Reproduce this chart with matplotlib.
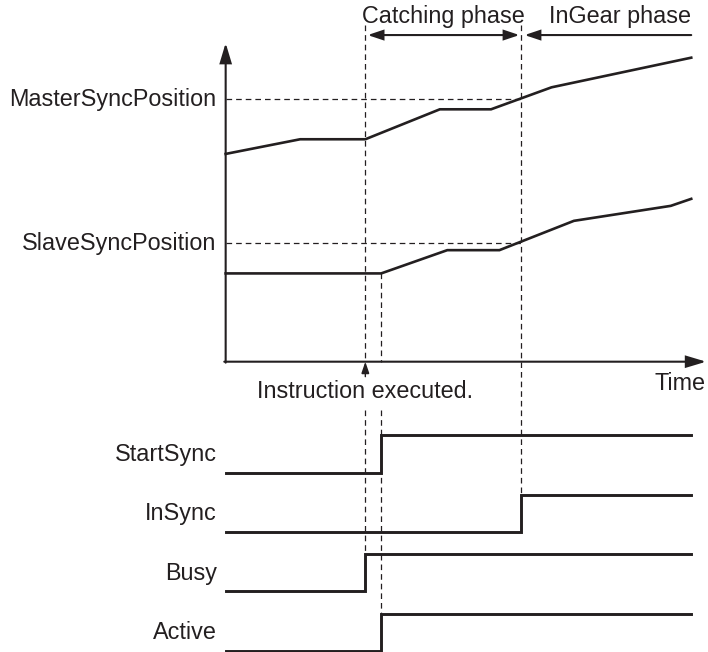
import matplotlib
matplotlib.use('Agg')
import matplotlib.pyplot as plt
from matplotlib.patches import FancyArrowPatch

plt.rcParams['font.family'] = ['Liberation Sans', 'DejaVu Sans']

INK = '#231f20'
FS = 16.8

# axis positions over time (arbitrary units, time axis 0..100)
master_t   = [0, 16, 30, 46, 57, 70, 100]
master_pos = [65.2, 69.8, 69.8, 79.2, 79.2, 86.1, 95.4]
slave_t    = [0, 33.4, 47.6, 58.8, 74.8, 95.6, 100]
slave_pos  = [27.7, 27.7, 35.0, 35.0, 44.2, 48.9, 51.1]

master_sync = 82.4
slave_sync  = 37.2

# event times
t_exec   = 30.0   # instruction executed
t_start  = 33.4   # sync starts
t_insync = 63.5   # slave in sync
t_end    = 100

signal_names = ['StartSync', 'InSync', 'Busy', 'Active']
signal_on    = [t_start, t_insync, t_exec, t_start]

# timing rows below the position chart
row0, row_step, row_h = -34.8, 18.63, 11.65
label_gap = -15.2   # guides stop around the "Instruction executed." text


def arrow(ax, p0, p1, style, hl, hw, lw=1.5, ms=20):
    a = FancyArrowPatch(p0, p1, arrowstyle=f'{style},head_length={hl},head_width={hw}',
                        mutation_scale=ms, lw=lw, color=INK,
                        shrinkA=0, shrinkB=0, joinstyle='miter')
    ax.add_patch(a)


fig = plt.figure(figsize=(7.08, 6.52), dpi=100)
ax = fig.add_axes([0, 0, 1, 1])
ax.set_xlim(-48.47, 103.6)
ax.set_ylim(-91.1, 113.5)
ax.axis('off')

dash = dict(color=INK, lw=0.9, ls=(0, (4.5, 3.2)))

# sync position guides
ax.plot([0, t_insync], [master_sync, master_sync], **dash)
ax.plot([0, t_insync], [slave_sync, slave_sync], **dash)

# event guides (broken at the time axis label line)
top = 105.8
busy_hi = row0 - 2 * row_step + row_h
act_hi = row0 - 3 * row_step + row_h
ins_hi = row0 - 1 * row_step + row_h
ax.plot([t_exec, t_exec], [top, 0], **dash)
ax.plot([t_exec, t_exec], [label_gap, busy_hi], **dash)
ax.plot([t_start, t_start], [slave_pos[1], 0], **dash)
ax.plot([t_start, t_start], [label_gap, act_hi], **dash)
ax.plot([t_insync, t_insync], [top, ins_hi], **dash)

# position curves
ax.plot(master_t, master_pos, color=INK, lw=1.9, solid_joinstyle='miter')
ax.plot(slave_t, slave_pos, color=INK, lw=1.9, solid_joinstyle='miter')

# axes with arrowheads
arrow(ax, (0, -0.3), (0, 100), '-|>', 0.6, 0.18)
arrow(ax, (-0.3, 0), (103.2, 0), '-|>', 0.6, 0.18)
ax.text(92.1, -8.9, 'Time', fontsize=FS, color=INK, ha='left', va='baseline')

ax.text(-1.93, 80.2, 'MasterSyncPosition', fontsize=FS, color=INK, ha='right', va='baseline')
ax.text(-1.93, 35.05, 'SlaveSyncPosition', fontsize=FS, color=INK, ha='right', va='baseline')

# instruction executed marker
arrow(ax, (t_exec, -4.7), (t_exec, 0), '-|>', 0.35, 0.12, lw=1.0)
ax.text(t_exec, -11.5, 'Instruction executed.', fontsize=FS, color=INK,
        ha='center', va='baseline')

# phase arrows
ph_y = 102.5
arrow(ax, (t_exec + 0.5, ph_y), (t_insync - 0.4, ph_y), '<|-|>', 0.45, 0.15)
arrow(ax, (t_end, ph_y), (t_insync + 0.7, ph_y), '-|>', 0.45, 0.15)
ax.text((t_exec + t_insync) / 2, 106.2, 'Catching phase', fontsize=FS, color=INK,
        ha='center', va='baseline')
ax.text(t_end, 106.2, 'InGear phase', fontsize=FS, color=INK, ha='right', va='baseline')

# timing signals
for i, (name, t_on) in enumerate(zip(signal_names, signal_on)):
    base = row0 - i * row_step
    ax.step([0, t_on, t_end], [base, base + row_h, base + row_h], where='post',
            color=INK, lw=2.1, clip_on=False, solid_joinstyle='miter')
    ax.text(-1.93, base + 3.6, name, fontsize=FS, color=INK, ha='right', va='baseline')

fig.savefig('out.png', dpi=100)
